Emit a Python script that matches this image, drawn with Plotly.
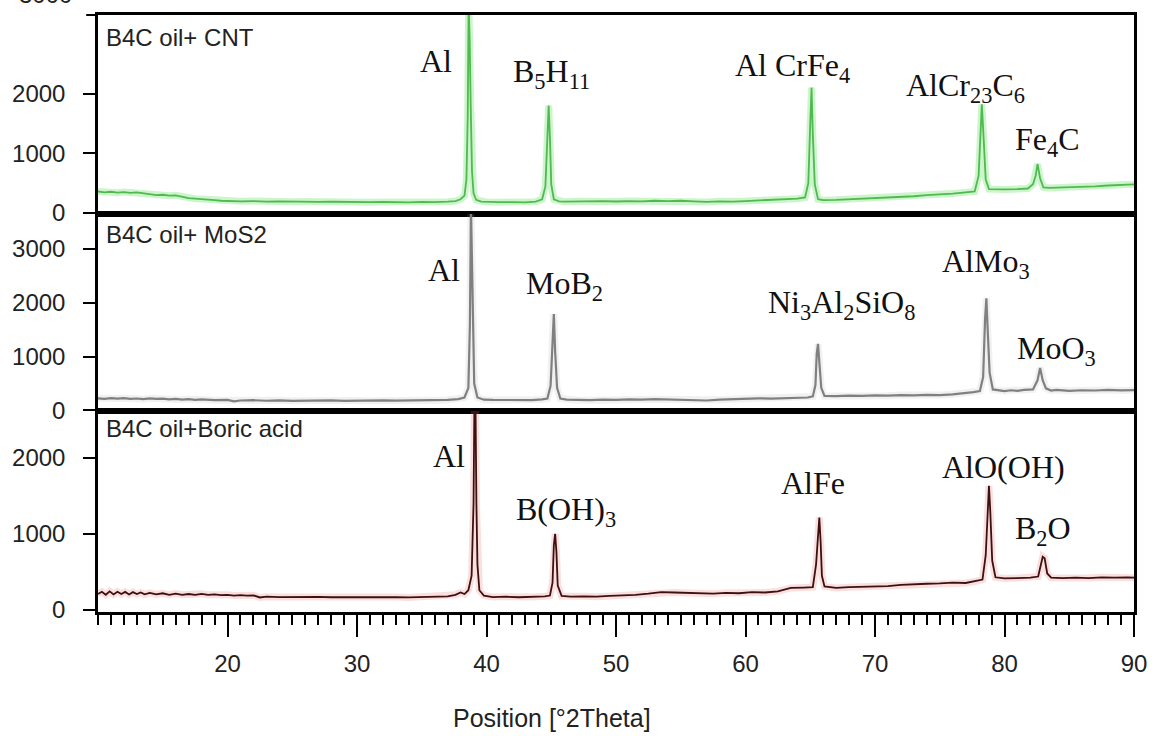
import plotly.graph_objects as go
from plotly.subplots import make_subplots

# ---------------- data ----------------
cnt_points = [(10.0,360),(10.5,345),(11.0,355),(11.5,340),(12.0,350),(12.5,338),(13.0,345),(13.5,330),(14.0,320),(14.5,300),
    (15.0,305),(15.5,290),(16.0,295),(16.5,270),(17.0,250),(17.5,240),(18.0,235),(18.5,225),(19.0,215),(19.5,205),
    (20,200),(21,195),(22,200),(23,190),(24,195),(25,188),(26,192),(27,185),(28,188),(29,182),(30,186),(31,180),
    (32,184),(33,180),(34,178),(35,185),(36,180),(37,190),(37.6,200),(38.0,230),(38.3,290),(38.45,560),(38.55,1600),
    (38.62,3500),(38.7,2900),(38.78,1800),(38.88,700),(39.0,330),(39.2,220),(39.6,190),(40,185),(41,180),(42,183),
    (43,178),(43.8,190),(44.3,230),(44.55,450),(44.7,1300),(44.8,1800),(44.9,1250),(45.0,480),(45.2,230),(45.6,195),
    (46,190),(47,195),(48,188),(49,198),(50,192),(51,200),(52,195),(53,205),(54,198),(55,205),(56,195),(57,185),
    (58,195),(59,190),(60,200),(61,210),(62,215),(63,230),(64,240),(64.6,260),(64.85,500),(65.0,1500),(65.1,2100),
    (65.2,1300),(65.35,480),(65.6,230),(66,215),(67,220),(68,230),(69,235),(70,245),(71,255),(72,270),(73,280),
    (74,300),(75,310),(76,325),(77,345),(77.7,360),(78.0,620),(78.15,1500),(78.25,1820),(78.4,1200),(78.55,560),
    (78.8,400),(79.5,390),(80,395),(81,400),(81.8,410),(82.2,480),(82.4,620),(82.55,820),(82.75,580),(83.0,430),
    (83.5,420),(84,425),(85,430),(86,440),(87,445),(88,460),(89,470),(90,480)]

mos2_points = [(10,225),(10.5,215),(11,230),(11.5,220),(12,228),(12.5,215),(13,222),(13.5,210),(14,225),(14.5,215),
    (15,220),(15.5,205),(16,215),(16.5,200),(17,210),(17.5,195),(18,205),(19,190),(20,195),(20.5,170),(21,185),
    (22,190),(23,180),(24,188),(25,178),(26,185),(27,180),(28,186),(29,178),(30,184),(31,180),(32,188),(33,182),
    (34,186),(35,182),(36,190),(37,195),(37.8,210),(38.3,240),(38.6,420),(38.72,1600),(38.8,3800),(38.88,2500),
    (38.95,1200),(39.05,500),(39.3,240),(39.8,200),(40.5,195),(41.5,190),(42.5,195),(43.5,192),(44.3,205),(44.7,220),
    (44.95,460),(45.1,1400),(45.2,1790),(45.3,1100),(45.45,420),(45.7,220),(46.2,200),(47,195),(48,190),(49,200),
    (50,195),(51,205),(52,200),(53,210),(54,205),(55,200),(56,195),(57,185),(58,200),(59,210),(60,215),(61,225),
    (62,220),(63,230),(64,235),(64.8,240),(65.2,260),(65.4,470),(65.5,1050),(65.6,1234),(65.7,900),(65.85,420),
    (66.1,270),(67,265),(68,275),(69,270),(70,280),(71,275),(72,285),(73,280),(74,290),(75,285),(76,300),(77,320),
    (77.6,340),(78.1,360),(78.35,620),(78.5,1700),(78.6,2080),(78.7,1500),(78.85,700),(79.1,390),(79.6,370),
    (80,360),(80.5,375),(81,365),(81.5,380),(82.2,390),(82.55,560),(82.75,790),(82.95,560),(83.2,410),(83.6,370),
    (84,380),(85,365),(86,375),(87,370),(88,380),(89,372),(90,378)]

boric_points = [(10,210),(10.3,240),(10.6,200),(10.9,245),(11.2,205),(11.5,240),(11.8,210),(12.1,238),(12.4,205),
    (12.7,235),(13,210),(13.3,230),(13.6,205),(14,225),(14.5,205),(15,220),(15.5,200),(16,215),(16.5,200),(17,210),
    (17.5,198),(18,212),(18.5,200),(19,205),(19.5,195),(20,200),(20.5,190),(21,195),(21.5,190),(22,193),(22.5,165),
    (23,175),(24,170),(25,172),(26,168),(27,172),(28,168),(29,170),(30,168),(31,172),(32,166),(33,170),(34,165),
    (35,172),(36,175),(37,180),(37.6,200),(38.0,230),(38.3,210),(38.6,260),(38.85,450),(39.0,1400),(39.07,2800),
    (39.15,2700),(39.22,1400),(39.3,600),(39.45,260),(39.8,190),(40.5,170),(41.5,175),(42.5,168),(43.5,172),
    (44.5,180),(44.9,190),(45.1,360),(45.2,850),(45.3,1000),(45.4,760),(45.5,320),(45.8,185),(46.5,175),(47.5,180),
    (48.5,175),(49.5,185),(50.5,190),(51.5,200),(52.5,215),(53.5,235),(54.5,230),(55.5,225),(56.5,215),(57.5,215),
    (58.5,225),(59.5,220),(60.5,235),(61.5,230),(62.5,245),(63.5,290),(64.5,295),(65.2,300),(65.45,600),(65.6,1000),
    (65.7,1215),(65.8,900),(65.9,450),(66.1,310),(67,290),(68,300),(69,305),(70,310),(71,315),(72,330),(73,340),
    (74,345),(75,350),(76,360),(77,355),(77.7,375),(78.3,400),(78.55,720),(78.7,1400),(78.8,1630),(78.9,1300),
    (79.05,650),(79.3,430),(80,415),(81,420),(82,425),(82.6,440),(82.8,580),(82.95,700),(83.1,680),(83.3,480),
    (83.6,425),(84.5,420),(85.5,425),(86.5,420),(87.5,430),(88.5,425),(89.5,430),(90,425)]

panel_names = ["B4C oil+ CNT", "B4C oil+ MoS2", "B4C oil+Boric acid"]

cnt_labels = ["Al", "B<sub>5</sub>H<sub>11</sub>", "Al CrFe<sub>4</sub>", "AlCr<sub>23</sub>C<sub>6</sub>", "Fe<sub>4</sub>C"]
mos2_labels = ["Al", "MoB<sub>2</sub>", "Ni<sub>3</sub>Al<sub>2</sub>SiO<sub>8</sub>", "AlMo<sub>3</sub>", "MoO<sub>3</sub>"]
boric_labels = ["Al", "B(OH)<sub>3</sub>", "AlFe", "AlO(OH)", "B<sub>2</sub>O"]

x_ticks = [20, 30, 40, 50, 60, 70, 80, 90]
y_ticks_cnt = [0, 1000, 2000]
y_ticks_mos2 = [0, 1000, 2000, 3000]
y_ticks_boric = [0, 1000, 2000]

# ---------------- layout helpers (positions / styles) ----------------
label_pos = [
    [(36.1, 2550), (45.0, 2330), (63.6, 2430), (77.0, 2100), (83.3, 1200)],
    [(36.7, 2615), (46.0, 2320), (67.4, 1970), (78.6, 2725), (84.0, 1105)],
    [(37.1, 2026), (46.1, 1294), (65.2, 1673), (79.9, 1882), (83.0, 1046)],
]
y_ranges = [[-17, 3317], [-10, 3646], [-26, 2614]]
domains = [[0.6667, 1.0], [0.3367, 0.6667], [0.0, 0.3367]]

SANS = "Liberation Sans, Arial, sans-serif"
SERIF = "Liberation Serif, Times New Roman, serif"

fig = make_subplots(rows=3, cols=1, shared_xaxes=True, vertical_spacing=0)

series = [cnt_points, mos2_points, boric_points]
line_cols = ["rgb(80,185,80)", "rgb(128,128,128)", "rgb(62,16,16)"]
line_widths = [1.8, 2.2, 1.8]
glow_cols = ["rgba(110,225,110,0.35)", "rgba(160,160,160,0.15)", "rgba(230,110,110,0.22)"]

for i, pts in enumerate(series):
    xs = [p[0] for p in pts]
    ys = [p[1] for p in pts]
    fig.add_trace(go.Scatter(x=xs, y=ys, mode="lines", line=dict(color=glow_cols[i], width=7),
                             hoverinfo="skip", showlegend=False), row=i + 1, col=1)
    fig.add_trace(go.Scatter(x=xs, y=ys, mode="lines", line=dict(color=line_cols[i], width=line_widths[i]),
                             showlegend=False), row=i + 1, col=1)

yticks = [y_ticks_cnt, y_ticks_mos2, y_ticks_boric]
for i in range(3):
    yname = "yaxis" if i == 0 else f"yaxis{i+1}"
    fig.layout[yname].update(domain=domains[i], range=y_ranges[i], tickvals=yticks[i],
                             ticks="outside", ticklen=12, tickwidth=2, tickcolor="black",
                             showline=True, mirror=True, linecolor="black", linewidth=2.5,
                             showgrid=False, zeroline=False, ticklabelstandoff=13,
                             tickfont=dict(family=SANS, size=24, color="#222"))
    xname = "xaxis" if i == 0 else f"xaxis{i+1}"
    fig.layout[xname].update(range=[10, 90], showline=True, mirror=True, linecolor="black",
                             linewidth=2.5, showgrid=False, zeroline=False)

fig.layout.xaxis.update(showticklabels=False, ticks="")
fig.layout.xaxis2.update(showticklabels=False, ticks="")
fig.layout.xaxis3.update(tickvals=x_ticks, ticks="outside", ticklen=22, tickwidth=2, tickcolor="black",
                         ticklabelstandoff=6,
                         tickfont=dict(family=SANS, size=24, color="#222"),
                         minor=dict(ticks="outside", ticklen=10, tickwidth=2, tickcolor="black", dtick=1,
                                    tick0=10, showgrid=False))

annotations = []
all_labels = [cnt_labels, mos2_labels, boric_labels]
for i in range(3):
    xr = "x" if i == 0 else f"x{i+1}"
    yr = "y" if i == 0 else f"y{i+1}"
    for txt, (lx, ly) in zip(all_labels[i], label_pos[i]):
        annotations.append(dict(x=lx, y=ly, xref=xr, yref=yr, text=txt, showarrow=False,
                                xanchor="center", yanchor="middle",
                                font=dict(family=SERIF, size=32, color="#111")))

panel_y = [0.963, 0.633, 0.307]
for name, py in zip(panel_names, panel_y):
    annotations.append(dict(x=0.0057, y=py, xref="paper", yref="paper", text=name, showarrow=False,
                            xanchor="left", yanchor="middle",
                            font=dict(family=SANS, size=24, color="#222")))

# clipped label at the very top of the left axis
annotations.append(dict(x=-0.0235, y=1.035, xref="paper", yref="paper", text="3000", showarrow=False,
                        xanchor="right", yanchor="middle", font=dict(family=SANS, size=24, color="#222")))

annotations.append(dict(x=0.438, y=-0.177, xref="paper", yref="paper", text="Position [°2Theta]",
                        showarrow=False, xanchor="center", yanchor="middle",
                        font=dict(family=SANS, size=25, color="#222")))

fig.update_layout(
    width=1159, height=736,
    margin=dict(l=83, r=22, t=12, b=124),
    paper_bgcolor="white", plot_bgcolor="white",
    annotations=annotations,
    shapes=[dict(type="line", xref="paper", yref="paper", x0=-0.0114, x1=0, y0=1.0, y1=1.0,
                 line=dict(color="black", width=2))],
    showlegend=False,
)

fig.write_html("out.html")
